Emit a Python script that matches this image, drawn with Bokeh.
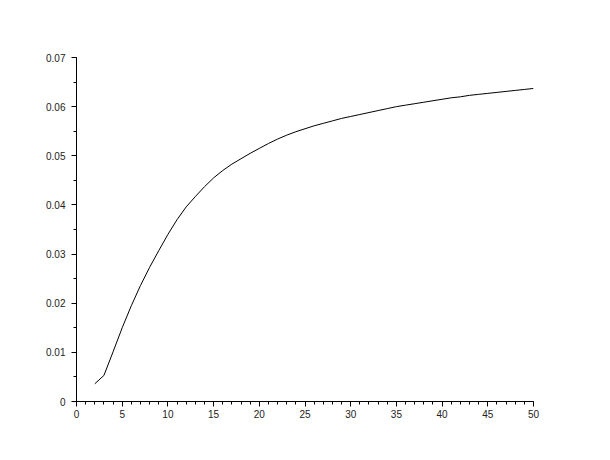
from bokeh.plotting import figure
from bokeh.models import FixedTicker, Range1d
from bokeh.embed import file_html
from bokeh.resources import INLINE

x_values = list(range(2, 51))
y_values = [
    0.0036, 0.0053, 0.0101, 0.0150, 0.0195, 0.0236, 0.0273, 0.0307, 0.0340,
    0.0370, 0.0396, 0.0417, 0.0437, 0.0455, 0.0470, 0.0483, 0.0494, 0.0505,
    0.0515, 0.0525, 0.0534, 0.0542, 0.0549, 0.0555, 0.0561, 0.0566, 0.0571,
    0.0576, 0.0580, 0.0584, 0.0588, 0.0592, 0.0596, 0.0600, 0.0603, 0.0606,
    0.0609, 0.0612, 0.0615, 0.0618, 0.0620, 0.0623, 0.0625, 0.0627, 0.0629,
    0.0631, 0.0633, 0.0635, 0.0637,
]
x_major_ticks = [0, 5, 10, 15, 20, 25, 30, 35, 40, 45, 50]
x_minor_ticks = list(range(0, 51))
y_major_ticks = [0, 0.01, 0.02, 0.03, 0.04, 0.05, 0.06, 0.07]
y_minor_ticks = [i * 0.005 for i in range(0, 15)]
y_tick_labels = {t: ("0" if t == 0 else f"{t:.2f}") for t in y_major_ticks}

p = figure(width=594, height=444, output_backend="svg", toolbar_location=None,
           x_range=Range1d(0, 50), y_range=Range1d(0, 0.07),
           min_border_left=76, min_border_top=57, min_border_right=61,
           min_border_bottom=43)
p.outline_line_color = None
p.xgrid.visible = False
p.ygrid.visible = False
p.background_fill_color = "white"
p.border_fill_color = "white"

p.line(x_values, y_values, line_color="black", line_width=1)

p.xaxis.ticker = FixedTicker(ticks=x_major_ticks, minor_ticks=x_minor_ticks)
p.yaxis.ticker = FixedTicker(ticks=y_major_ticks, minor_ticks=y_minor_ticks)
p.yaxis.major_label_overrides = y_tick_labels

for ax in (p.xaxis, p.yaxis):
    ax.axis_line_color = "black"
    ax.major_tick_line_color = "black"
    ax.minor_tick_line_color = "black"
    ax.major_tick_in = 0
    ax.minor_tick_in = 0
    ax.major_tick_out = 5
    ax.minor_tick_out = 3
    ax.major_label_text_font = "Liberation Sans"
    ax.major_label_text_font_size = "10px"
    ax.major_label_text_color = "#222222"
p.xaxis.major_label_standoff = 3
p.yaxis.major_label_standoff = 6

open("out.html", "w").write(file_html(p, INLINE))
